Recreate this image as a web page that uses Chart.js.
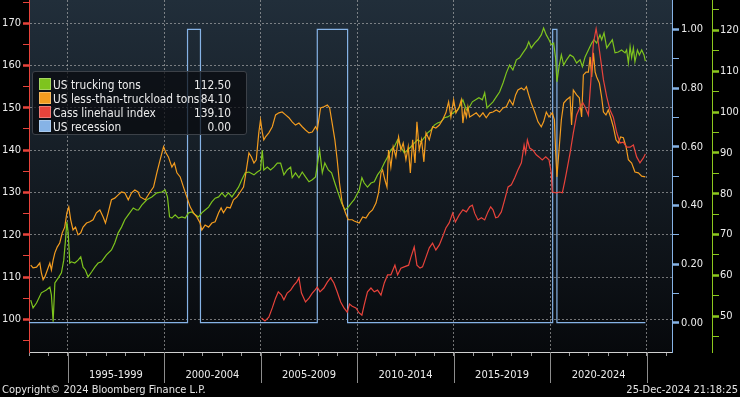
<!DOCTYPE html>
<html>
<head>
<meta charset="utf-8">
<script src="https://cdn.jsdelivr.net/npm/chart.js"></script>
<style>
  html, body { margin: 0; padding: 0; background: #000; }
  #wrap { position: relative; width: 740px; height: 397px; overflow: hidden;
          font-family: "DejaVu Sans Condensed", "DejaVu Sans", sans-serif; color: #ececec; }
  #legend { position: absolute; left: 32px; top: 71px; width: 215px; height: 64px; box-sizing: border-box;
            padding: 6px 0 0 6px; background: rgba(8,10,14,0.72); border: 1px solid #3c4148;
            border-radius: 3px; font-size: 11.8px; }
  .row { position: relative; height: 14px; line-height: 14px; white-space: nowrap; }
  .sw { display: inline-block; width: 10px; height: 10px; border: 1px solid rgba(255,255,255,0.3);
        vertical-align: -1px; margin-right: 2px; }
  .val { position: absolute; right: 15px; top: 0; }
  .foot { position: absolute; top: 383px; font-size: 11px; line-height: 13px; color: #e6e6e6; }
</style>
</head>
<body>
<div id="wrap">
  <canvas id="myChart" width="740" height="397"></canvas>
  <div id="legend"></div>
  <div class="foot" style="left:2px">Copyright© 2024 Bloomberg Finance L.P.</div>
  <div class="foot" style="right:2px">25-Dec-2024 21:18:25</div>
</div>
<script>
// US trucking tons (right green axis)
const truckYears = [
  1993.09, 1993.21, 1993.39, 1993.64, 1993.90, 1994.08, 1994.16, 1994.25, 1994.34, 1994.51,
  1994.68, 1994.80, 1994.89, 1994.96, 1995.03, 1995.11, 1995.20, 1995.37, 1995.54, 1995.68,
  1995.80, 1995.92, 1996.06, 1996.24, 1996.41, 1996.58, 1996.75, 1997.01, 1997.27, 1997.44,
  1997.62, 1997.79, 1997.96, 1998.14, 1998.40, 1998.57, 1998.67, 1998.84, 1999.10, 1999.36,
  1999.62, 1999.88, 2000.05, 2000.17, 2000.28, 2000.40, 2000.57, 2000.74, 2000.92, 2001.09,
  2001.26, 2001.43, 2001.61, 2001.78, 2001.95, 2002.12, 2002.30, 2002.47, 2002.64, 2002.82,
  2002.99, 2003.16, 2003.33, 2003.51, 2003.68, 2003.85, 2004.02, 2004.20, 2004.39, 2004.65,
  2004.82, 2004.99, 2005.08, 2005.16, 2005.34, 2005.51, 2005.68, 2005.86, 2006.03, 2006.20,
  2006.37, 2006.55, 2006.63, 2006.80, 2006.98, 2007.15, 2007.32, 2007.50, 2007.67, 2007.84,
  2008.05, 2008.19, 2008.32, 2008.50, 2008.67, 2008.84, 2009.01, 2009.19, 2009.36, 2009.53,
  2009.74, 2009.84, 2010.10, 2010.24, 2010.36, 2010.53, 2010.71, 2010.88, 2011.05, 2011.23,
  2011.40, 2011.57, 2011.74, 2011.92, 2012.09, 2012.26, 2012.43, 2012.61, 2012.78, 2012.95,
  2013.12, 2013.30, 2013.47, 2013.64, 2013.82, 2013.99, 2014.16, 2014.33, 2014.51, 2014.68,
  2014.85, 2015.02, 2015.20, 2015.30, 2015.47, 2015.65, 2015.82, 2015.96, 2016.13, 2016.30,
  2016.48, 2016.60, 2016.72, 2016.86, 2017.03, 2017.20, 2017.37, 2017.55, 2017.72, 2017.89,
  2018.06, 2018.24, 2018.41, 2018.58, 2018.76, 2018.88, 2019.01, 2019.19, 2019.36, 2019.53,
  2019.65, 2019.79, 2019.93, 2020.05, 2020.17, 2020.27, 2020.34, 2020.45, 2020.57, 2020.69,
  2020.84, 2021.02, 2021.19, 2021.36, 2021.54, 2021.66, 2021.80, 2021.97, 2022.14, 2022.26,
  2022.40, 2022.57, 2022.66, 2022.78, 2022.92, 2023.09, 2023.21, 2023.35, 2023.52, 2023.69,
  2023.87, 2023.95, 2024.04, 2024.13, 2024.21, 2024.30, 2024.38, 2024.51, 2024.61, 2024.73,
  2024.85, 2024.92,
];
const truckTons = [
  53.9, 52.0, 53.2, 55.7, 56.4, 57.1, 55.2, 48.6, 58.1, 59.3,
  60.6, 63.7, 68.6, 73.1, 70.4, 63.0, 63.3, 63.0, 63.7, 64.5,
  62.0, 61.3, 59.6, 60.8, 62.0, 63.0, 63.3, 65.0, 66.2, 67.9,
  70.4, 71.8, 73.6, 74.8, 76.5, 76.0, 76.0, 77.2, 78.5, 79.2,
  80.2, 80.4, 80.9, 79.2, 74.3, 74.0, 74.8, 74.0, 74.3, 74.0,
  75.3, 75.5, 74.8, 74.3, 75.3, 76.0, 76.7, 78.0, 78.9, 79.2,
  80.2, 79.2, 80.2, 79.2, 80.4, 81.6, 83.4, 85.1, 85.3, 84.6,
  85.3, 85.8, 90.7, 85.8, 86.5, 85.8, 86.5, 87.5, 87.5, 84.6,
  85.8, 86.5, 83.9, 85.1, 83.9, 85.3, 84.1, 82.9, 83.4, 84.1,
  90.7, 85.1, 87.5, 85.8, 85.1, 82.6, 80.2, 77.7, 76.0, 76.7,
  78.0, 78.5, 80.9, 83.9, 82.6, 81.6, 82.6, 82.9, 84.6, 85.8,
  87.5, 89.0, 90.7, 91.5, 93.2, 91.5, 90.0, 90.7, 91.5, 92.4,
  93.2, 92.7, 93.7, 94.9, 95.6, 96.8, 97.3, 97.6, 98.6, 98.8,
  99.3, 100.0, 100.5, 101.3, 103.0, 100.5, 101.3, 102.5, 103.0, 103.5,
  103.0, 104.7, 101.0, 101.7, 102.5, 103.7, 104.9, 107.1, 109.6, 111.5,
  110.3, 112.8, 113.3, 114.5, 115.7, 117.2, 115.7, 116.9, 117.7, 118.9,
  120.6, 118.9, 117.7, 116.5, 116.9, 113.3, 107.4, 111.1, 114.0, 111.5,
  112.8, 114.0, 113.5, 112.0, 112.8, 111.1, 113.5, 115.2, 116.9, 117.7,
  116.9, 118.9, 117.7, 119.4, 115.7, 116.9, 117.7, 114.5, 114.7, 115.2,
  114.5, 115.2, 112.0, 116.0, 113.3, 115.7, 112.3, 115.2, 114.0, 115.2,
  114.0, 112.5,
];

// US less-than-truckload tons (right green axis)
const ltlYears = [
  1993.09, 1993.21, 1993.39, 1993.56, 1993.64, 1993.73, 1993.82, 1993.95, 1994.08, 1994.16,
  1994.25, 1994.34, 1994.46, 1994.59, 1994.72, 1994.85, 1994.96, 1995.06, 1995.16, 1995.28,
  1995.41, 1995.54, 1995.68, 1995.80, 1995.98, 1996.15, 1996.32, 1996.49, 1996.67, 1996.84,
  1996.96, 1997.10, 1997.27, 1997.44, 1997.62, 1997.79, 1997.96, 1998.14, 1998.31, 1998.48,
  1998.65, 1998.76, 1999.02, 1999.27, 1999.45, 1999.62, 1999.79, 1999.97, 2000.09, 2000.22,
  2000.40, 2000.53, 2000.66, 2000.83, 2001.00, 2001.17, 2001.35, 2001.52, 2001.69, 2001.86,
  2001.95, 2002.12, 2002.30, 2002.47, 2002.64, 2002.82, 2002.95, 2003.07, 2003.25, 2003.42,
  2003.59, 2003.77, 2003.94, 2004.11, 2004.20, 2004.39, 2004.52, 2004.65, 2004.77, 2004.90,
  2004.99, 2005.08, 2005.16, 2005.25, 2005.42, 2005.60, 2005.77, 2005.94, 2006.11, 2006.29,
  2006.46, 2006.63, 2006.80, 2006.98, 2007.15, 2007.32, 2007.50, 2007.67, 2007.84, 2007.93,
  2008.10, 2008.27, 2008.45, 2008.57, 2008.70, 2008.84, 2008.96, 2009.08, 2009.22, 2009.39,
  2009.53, 2009.74, 2009.84, 2010.10, 2010.28, 2010.45, 2010.62, 2010.79, 2010.97, 2011.10,
  2011.23, 2011.31, 2011.43, 2011.54, 2011.62, 2011.74, 2011.86, 2012.00, 2012.14, 2012.26,
  2012.38, 2012.52, 2012.64, 2012.75, 2012.87, 2012.99, 2013.09, 2013.21, 2013.33, 2013.45,
  2013.56, 2013.73, 2013.90, 2014.07, 2014.25, 2014.42, 2014.59, 2014.73, 2014.85, 2014.99,
  2015.11, 2015.28, 2015.39, 2015.47, 2015.56, 2015.65, 2015.73, 2015.82, 2015.99, 2016.16,
  2016.34, 2016.51, 2016.68, 2016.86, 2017.03, 2017.20, 2017.37, 2017.55, 2017.72, 2017.89,
  2018.06, 2018.20, 2018.32, 2018.50, 2018.64, 2018.76, 2018.88, 2019.01, 2019.19, 2019.36,
  2019.53, 2019.65, 2019.79, 2019.93, 2020.10, 2020.21, 2020.27, 2020.34, 2020.45, 2020.57,
  2020.69, 2020.84, 2021.02, 2021.10, 2021.19, 2021.36, 2021.50, 2021.62, 2021.71, 2021.85,
  2021.97, 2022.06, 2022.14, 2022.23, 2022.32, 2022.40, 2022.54, 2022.66, 2022.75, 2022.88,
  2023.00, 2023.13, 2023.26, 2023.40, 2023.52, 2023.64, 2023.78, 2023.92, 2024.04, 2024.21,
  2024.38, 2024.56, 2024.73, 2024.92,
];
const ltlTons = [
  62.5, 61.8, 62.0, 63.0, 60.6, 58.9, 59.6, 61.3, 63.0, 61.3,
  63.7, 65.5, 66.9, 67.9, 70.4, 71.8, 75.3, 76.7, 73.6, 71.1,
  71.8, 69.9, 70.4, 71.8, 72.8, 73.1, 73.6, 75.3, 76.0, 74.3,
  72.8, 75.3, 78.5, 78.9, 79.7, 80.4, 80.2, 78.5, 80.2, 80.9,
  80.4, 79.2, 78.5, 80.4, 81.6, 85.1, 88.3, 91.5, 90.0, 89.0,
  86.5, 87.5, 85.1, 84.1, 81.6, 79.2, 76.7, 75.3, 74.3, 72.8,
  71.1, 72.3, 71.8, 72.8, 73.1, 75.3, 76.5, 75.3, 76.7, 76.5,
  78.5, 79.2, 80.4, 81.6, 84.1, 90.0, 89.0, 87.5, 88.3, 94.9,
  98.1, 95.1, 93.2, 93.9, 94.9, 96.4, 99.3, 99.8, 100.0, 99.3,
  98.6, 97.6, 96.8, 97.3, 96.4, 95.6, 94.9, 95.1, 96.4, 95.6,
  101.0, 101.3, 101.7, 101.0, 97.3, 93.2, 88.3, 82.6, 77.7, 75.3,
  73.6, 73.6, 73.3, 72.8, 74.3, 74.0, 75.3, 76.0, 77.7, 80.2,
  85.1, 85.8, 83.4, 81.6, 90.7, 86.5, 91.5, 89.0, 93.9, 90.7,
  92.4, 88.3, 91.5, 85.1, 93.2, 87.5, 97.6, 90.7, 93.2, 87.8,
  94.9, 93.2, 96.4, 96.1, 96.8, 98.1, 99.8, 102.5, 98.8, 103.0,
  99.8, 101.3, 103.0, 97.3, 100.5, 98.8, 101.3, 98.8, 99.3, 99.8,
  98.8, 99.8, 98.6, 99.8, 100.0, 100.5, 100.0, 101.0, 101.3, 103.0,
  101.7, 104.2, 105.4, 105.9, 105.4, 106.2, 104.2, 102.2, 100.0, 97.6,
  96.4, 97.6, 100.0, 98.8, 99.8, 98.1, 90.7, 84.1, 90.7, 98.1,
  102.2, 103.0, 103.7, 96.8, 105.4, 104.2, 103.5, 98.8, 109.1, 109.8,
  109.8, 113.5, 108.6, 114.5, 109.8, 108.6, 107.1, 103.5, 100.0, 99.3,
  100.5, 98.6, 96.4, 93.2, 92.4, 93.9, 93.7, 91.5, 88.3, 87.5,
  85.3, 85.1, 84.3, 84.1,
];

// Cass linehaul index (left red axis)
const cassYears = [
  2005.04, 2005.22, 2005.42, 2005.60, 2005.77, 2005.91, 2006.08, 2006.20, 2006.37, 2006.55,
  2006.72, 2006.86, 2006.98, 2007.11, 2007.32, 2007.50, 2007.67, 2007.81, 2007.93, 2008.07,
  2008.27, 2008.45, 2008.62, 2008.79, 2008.96, 2009.14, 2009.31, 2009.48, 2009.60, 2009.74,
  2009.93, 2010.10, 2010.24, 2010.36, 2010.53, 2010.71, 2010.88, 2011.05, 2011.23, 2011.40,
  2011.57, 2011.74, 2011.95, 2012.09, 2012.26, 2012.43, 2012.66, 2012.78, 2012.95, 2013.09,
  2013.25, 2013.38, 2013.56, 2013.73, 2013.90, 2014.07, 2014.25, 2014.42, 2014.59, 2014.76,
  2014.94, 2015.08, 2015.28, 2015.47, 2015.65, 2015.82, 2015.96, 2016.08, 2016.25, 2016.43,
  2016.60, 2016.77, 2016.91, 2017.03, 2017.17, 2017.29, 2017.46, 2017.63, 2017.81, 2017.98,
  2018.15, 2018.32, 2018.50, 2018.64, 2018.72, 2018.81, 2018.93, 2019.10, 2019.27, 2019.41,
  2019.58, 2019.76, 2019.93, 2020.05, 2020.10, 2020.31, 2020.48, 2020.62, 2020.74, 2020.83,
  2021.02, 2021.19, 2021.36, 2021.54, 2021.68, 2021.80, 2021.97, 2022.09, 2022.23, 2022.37,
  2022.49, 2022.61, 2022.75, 2022.92, 2023.09, 2023.26, 2023.44, 2023.61, 2023.78, 2023.95,
  2024.13, 2024.30, 2024.47, 2024.64, 2024.81, 2024.92,
];
const cassIndex = [
  100.3, 99.6, 100.5, 102.7, 105.0, 106.5, 105.7, 104.6, 106.2, 106.9,
  108.1, 108.8, 109.8, 106.2, 104.1, 105.0, 106.2, 106.9, 107.6, 106.5,
  107.4, 108.8, 109.8, 108.6, 106.5, 104.1, 102.7, 101.7, 103.6, 103.1,
  102.7, 101.5, 101.0, 103.4, 106.5, 107.4, 106.5, 106.9, 105.7, 108.6,
  110.5, 110.5, 112.8, 110.5, 112.1, 112.4, 112.8, 114.7, 117.1, 112.8,
  112.1, 112.4, 114.7, 116.9, 118.0, 116.4, 117.6, 119.5, 121.6, 122.8,
  125.1, 123.0, 124.7, 125.9, 125.4, 126.6, 127.0, 125.1, 123.5, 124.0,
  123.5, 125.4, 126.6, 125.9, 124.0, 124.2, 125.4, 128.2, 131.3, 131.8,
  133.4, 135.3, 137.0, 141.2, 139.3, 142.4, 140.5, 140.0, 138.9, 138.4,
  137.7, 138.4, 137.7, 134.6, 130.1, 129.9, 130.1, 129.9, 132.5, 134.6,
  139.3, 144.1, 148.3, 150.2, 151.2, 150.2, 148.3, 155.9, 165.3, 168.7,
  165.3, 161.3, 156.6, 152.6, 149.5, 147.8, 144.1, 141.7, 141.9, 140.7,
  140.7, 141.2, 138.4, 137.0, 138.1, 139.1,
];

// US recession flag (right blue axis), value switches at each date
const recYears = [1993.0, 2001.21, 2001.88, 2007.93, 2009.5, 2020.12, 2020.34, 2024.92];
const recFlag = [0, 1, 0, 1, 0, 1, 0, 0];

// axis ticks
const yearTicks = Array.from({ length: 34 }, (_, i) => 1993 + i);
const periodBounds = [1995, 2000, 2005, 2010, 2015, 2020, 2025];
const periodMid = [1997.5, 2002.5, 2007.5, 2012.5, 2017.5, 2022.5];
const periodLabels = ["1995-1999", "2000-2004", "2005-2009", "2010-2014", "2015-2019", "2020-2024"];
const cassTicks = [95, 100, 105, 110, 115, 120, 125, 130, 135, 140, 145, 150, 155, 160, 165, 170, 175];
const recTicks = [0, 0.1, 0.2, 0.3, 0.4, 0.5, 0.6, 0.7, 0.8, 0.9, 1.0];
const truckTicks = [45, 50, 55, 60, 65, 70, 75, 80, 85, 90, 95, 100, 105, 110, 115, 120, 125];

const green = "#7ec41e";
const orange = "#f39c1f";
const red = "#e8433b";
const blue = "#86b3e6";
const gridGray = "rgba(185,185,185,0.6)";

const pts = (xs, ys) => xs.map((x, i) => ({ x: x, y: ys[i] }));
const isTen = (c) => c.tick && c.tick.value % 10 === 0;

Chart.defaults.font.family = '"DejaVu Sans Condensed", "DejaVu Sans", sans-serif';
Chart.defaults.font.size = 11;
Chart.defaults.color = "#ececec";

const bgPlugin = {
  id: "bg",
  beforeDraw(chart) {
    const { ctx, chartArea: a } = chart;
    ctx.save();
    ctx.fillStyle = "#000";
    ctx.fillRect(0, 0, chart.width, chart.height);
    const g = ctx.createLinearGradient(0, a.top, 0, a.bottom);
    g.addColorStop(0, "#212e3a");
    g.addColorStop(1, "#07090c");
    ctx.fillStyle = g;
    ctx.fillRect(a.left, a.top, a.right - a.left, a.bottom - a.top);
    ctx.restore();
  },
  afterDraw(chart) {
    // separators between the 5-year periods under the axis
    const { ctx, chartArea: a } = chart;
    const xs = chart.scales.x;
    ctx.save();
    ctx.strokeStyle = "#8c8c8c";
    ctx.lineWidth = 1;
    periodBounds.forEach((yr) => {
      const px = Math.round(xs.getPixelForValue(yr)) + 0.5;
      ctx.beginPath();
      ctx.moveTo(px, a.bottom);
      ctx.lineTo(px, a.bottom + 31);
      ctx.stroke();
    });
    ctx.restore();
  },
};

const data = {
  datasets: [
    { label: "US trucking tons", data: pts(truckYears, truckTons), borderColor: green, yAxisID: "yT", order: 3 },
    { label: "US less-than-truckload tons", data: pts(ltlYears, ltlTons), borderColor: orange, yAxisID: "yT", order: 2 },
    { label: "Cass linehaul index", data: pts(cassYears, cassIndex), borderColor: red, yAxisID: "yC", order: 1 },
    { label: "US recession", data: pts(recYears, recFlag), borderColor: blue, yAxisID: "yR", stepped: true, order: 4 },
  ],
};

const config = {
  type: "line",
  data: data,
  plugins: [bgPlugin],
  options: {
    responsive: false,
    animation: false,
    events: [],
    layout: { padding: 0 },
    elements: {
      line: { borderWidth: 1.2, tension: 0, fill: false },
      point: { radius: 0 },
    },
    plugins: {
      legend: { display: false },
      tooltip: { enabled: false },
    },
    scales: {
      x: {
        type: "linear",
        min: 1993.0,
        max: 2026.3,
        afterBuildTicks: (axis) => {
          axis.ticks = yearTicks.concat(periodMid).map((v) => ({ value: v }));
        },
        afterFit: (axis) => {
          axis.height = 45;
          axis.paddingLeft = 0;
          axis.paddingRight = 0;
        },
        border: { color: "#d0d0d0", dash: [2, 2] },
        grid: {
          color: (c) => (c.tick && periodBounds.includes(c.tick.value) ? gridGray : "transparent"),
          tickColor: (c) => (c.tick && Number.isInteger(c.tick.value) ? "#9a9a9a" : "transparent"),
          tickLength: 4,
        },
        ticks: {
          autoSkip: false,
          maxRotation: 0,
          padding: 13,
          callback: (v) => {
            const i = periodMid.indexOf(v);
            return i >= 0 ? periodLabels[i] : "";
          },
        },
      },
      yC: {
        position: "left",
        min: 92.27,
        max: 175.5,
        afterBuildTicks: (axis) => {
          axis.ticks = cassTicks.map((v) => ({ value: v }));
        },
        afterFit: (axis) => {
          axis.width = 29;
          axis.paddingTop = 0;
          axis.paddingBottom = 0;
        },
        border: { color: red, dash: [2, 2] },
        grid: {
          color: (c) => (isTen(c) ? gridGray : "transparent"),
          tickColor: red,
          tickWidth: (c) => (isTen(c) ? 2.5 : 1),
          tickLength: 6,
        },
        ticks: { padding: 2, callback: (v) => (v % 10 === 0 ? v : "") },
      },
      yR: {
        position: "right",
        min: -0.1,
        max: 1.1,
        afterBuildTicks: (axis) => {
          axis.ticks = recTicks.map((v) => ({ value: v }));
        },
        afterFit: (axis) => {
          axis.width = 40;
          axis.paddingTop = 0;
          axis.paddingBottom = 0;
        },
        border: { color: blue },
        grid: {
          drawOnChartArea: false,
          tickColor: blue,
          tickWidth: (c) => (c.tick && Math.round(c.tick.value * 10) % 2 === 0 ? 2.5 : 1),
          tickLength: 7,
        },
        ticks: { padding: 2, callback: (v) => (Math.round(v * 10) % 2 === 0 ? v.toFixed(2) : "") },
      },
      yT: {
        position: "right",
        min: 41.2,
        max: 127.45,
        afterBuildTicks: (axis) => {
          axis.ticks = truckTicks.map((v) => ({ value: v }));
        },
        afterFit: (axis) => {
          axis.width = 28;
          axis.paddingTop = 0;
          axis.paddingBottom = 0;
        },
        border: { color: "#8cc81e" },
        grid: {
          drawOnChartArea: false,
          tickColor: "#8cc81e",
          tickWidth: (c) => (isTen(c) ? 2.5 : 1),
          tickLength: 7,
        },
        ticks: { padding: 1, callback: (v) => (v % 10 === 0 ? v : "") },
      },
    },
  },
};

const myChart = new Chart(document.querySelector("#myChart"), config);

// legend with last values, like the terminal's
const legendBox = document.querySelector("#legend");
myChart.data.datasets.forEach((ds) => {
  const last = ds.data[ds.data.length - 1].y;
  const row = document.createElement("div");
  row.className = "row";
  row.innerHTML =
    '<span class="sw" style="background:' + ds.borderColor + '"></span>' + ds.label +
    '<span class="val">' + last.toFixed(2) + "</span>";
  legendBox.appendChild(row);
});
</script>
</body>
</html>
